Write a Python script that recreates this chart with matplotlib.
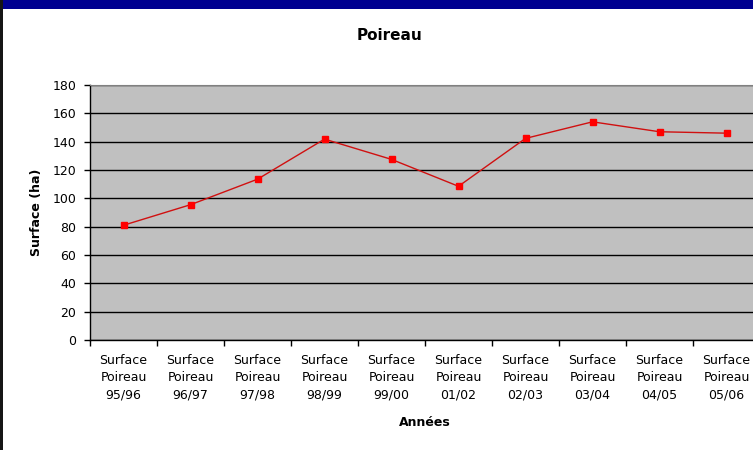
import matplotlib.pyplot as plt
from matplotlib.patches import Rectangle
import numpy as np

plt.rcParams['font.family'] = ['DejaVu Sans']

# data
saisons = ['95/96', '96/97', '97/98', '98/99', '99/00',
           '01/02', '02/03', '03/04', '04/05', '05/06']
surface = [81, 95.5, 113.5, 141.8, 127.5, 108.5, 142.3, 154, 147, 146]
labels = ['Surface\nPoireau\n' + s for s in saisons]

fig = plt.figure(figsize=(7.53, 4.5), dpi=100)
fig.patch.set_facecolor('white')

# slide frame (blue band on top, dark edge on left)
fig.patches.append(Rectangle((0, 1 - 9 / 450), 1, 9 / 450, transform=fig.transFigure,
                             facecolor='#000090', edgecolor='none', zorder=5))
fig.patches.append(Rectangle((0, 0), 3 / 753, 1, transform=fig.transFigure,
                             facecolor='#151515', edgecolor='none', zorder=5))

ax = fig.add_axes([90 / 753, 110 / 450, 670 / 753, 255 / 450])
ax.set_facecolor('#C0C0C0')

x = np.arange(len(saisons))
ax.plot(x, surface, color='#D01010', lw=1, marker='s', markersize=5,
        markerfacecolor='#FF0000', markeredgecolor='#FF0000', zorder=3)

ax.set_xlim(-0.5, len(saisons) - 0.5)
ax.set_ylim(0, 180)
ax.set_yticks(np.arange(0, 181, 20))
ax.yaxis.grid(True, color='black', lw=1)
ax.set_axisbelow(True)

# ticks between categories, labels under the points
ax.set_xticks(np.arange(-0.5, len(saisons), 1))
ax.set_xticklabels([])
ax.set_xticks(x, minor=True)
ax.set_xticklabels(labels, minor=True, fontsize=9, linespacing=1.45)
ax.tick_params(axis='x', which='major', length=4, width=1, direction='out')
ax.tick_params(axis='x', which='minor', length=0, pad=10)
ax.tick_params(axis='y', length=4, width=1, direction='out', labelsize=9, pad=6)

for s in ['left', 'bottom']:
    ax.spines[s].set_color('black')
    ax.spines[s].set_linewidth(1)
ax.spines['top'].set_color('#808080')
ax.spines['right'].set_color('#808080')

ax.set_xlabel('Années', fontsize=9, fontweight='bold', labelpad=10)
ax.set_ylabel('Surface (ha)', fontsize=9, fontweight='bold', labelpad=7)
fig.text(389 / 753, 1 - 36 / 450, 'Poireau', ha='center', va='center',
         fontsize=11, fontweight='bold')

fig.savefig('out.png', dpi=100)
